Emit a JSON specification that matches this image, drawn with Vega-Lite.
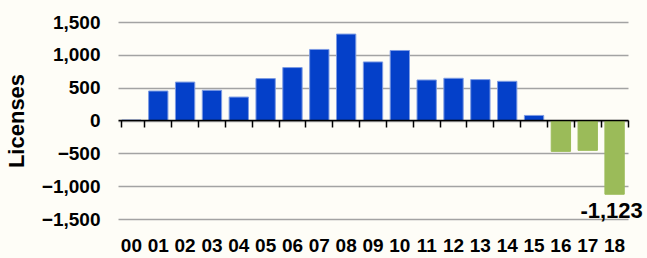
{
  "$schema": "https://vega.github.io/schema/vega-lite/v6.json",
  "width": 510,
  "height": 197,
  "autosize": {"type": "none"},
  "padding": {"left": 118, "top": 22, "right": 19, "bottom": 39},
  "background": "#FEFDF7",
  "config": {
    "view": {"stroke": null},
    "font": "Liberation Sans, Arial, sans-serif"
  },
  "data": {
    "values": [
      {"year": "00", "value": 8},
      {"year": "01", "value": 449},
      {"year": "02", "value": 585},
      {"year": "03", "value": 460},
      {"year": "04", "value": 357},
      {"year": "05", "value": 638},
      {"year": "06", "value": 806},
      {"year": "07", "value": 1082},
      {"year": "08", "value": 1316},
      {"year": "09", "value": 892},
      {"year": "10", "value": 1066},
      {"year": "11", "value": 617},
      {"year": "12", "value": 643},
      {"year": "13", "value": 623},
      {"year": "14", "value": 597},
      {"year": "15", "value": 77},
      {"year": "16", "value": -470},
      {"year": "17", "value": -454},
      {"year": "18", "value": -1123, "label": "-1,123"}
    ]
  },
  "encoding": {
    "x": {
      "field": "year",
      "type": "nominal",
      "sort": null,
      "scale": {"paddingInner": 0.28, "paddingOuter": 0.14},
      "axis": {
        "title": null,
        "orient": "bottom",
        "offset": -99,
        "domain": true,
        "domainColor": "#000000",
        "domainWidth": 1.5,
        "ticks": true,
        "tickColor": "#000000",
        "tickWidth": 1.5,
        "tickSize": 7,
        "bandPosition": 1.1946,
        "tickExtra": true,
        "labelAngle": 0,
        "labelFontSize": 19,
        "labelFontWeight": "bold",
        "labelColor": "#000000",
        "labelPadding": 109,
        "grid": false,
        "zindex": 1
      }
    },
    "y": {
      "field": "value",
      "type": "quantitative",
      "scale": {"domain": [-1500, 1500], "nice": false},
      "axis": {
        "title": "Licenses",
        "titleFontSize": 22,
        "titleFontWeight": "bold",
        "titleColor": "#000000",
        "titlePadding": 13,
        "values": [-1500, -1000, -500, 0, 500, 1000, 1500],
        "format": ",d",
        "domain": false,
        "ticks": false,
        "labelFontSize": 19,
        "labelFontWeight": "bold",
        "labelColor": "#000000",
        "labelPadding": 18,
        "grid": true,
        "gridColor": "#A3A3A3",
        "gridWidth": 1.5
      }
    }
  },
  "layer": [
    {
      "mark": {"type": "bar", "strokeWidth": 1},
      "encoding": {
        "color": {
          "condition": {"test": "datum.value < 0", "value": "#9BBB59"},
          "value": "#0440C9"
        },
        "stroke": {
          "condition": {"test": "datum.value < 0", "value": "#9BBB59"},
          "value": "#7D9BE3"
        }
      }
    },
    {
      "transform": [{"filter": "isValid(datum.label)"}],
      "mark": {
        "type": "text",
        "baseline": "top",
        "align": "center",
        "dy": 7,
        "dx": -3,
        "fontSize": 22,
        "fontWeight": "bold",
        "color": "#000000"
      },
      "encoding": {"text": {"field": "label"}}
    }
  ]
}
